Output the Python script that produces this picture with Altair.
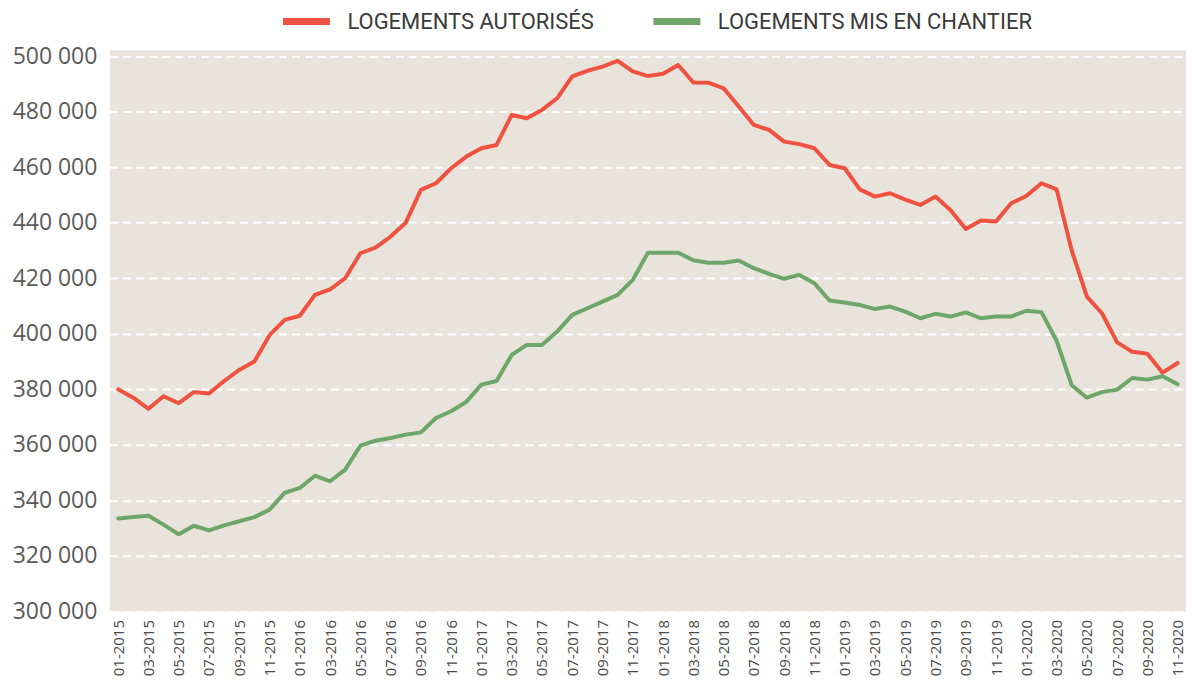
import altair as alt
import pandas as pd

# Monthly categories 01-2015 .. 11-2020
months = [f"{m:02d}-{y}" for y in range(2015, 2021) for m in range(1, 13)][:71]
tick_labels = months[::2]

series = ["LOGEMENTS AUTORISÉS", "LOGEMENTS MIS EN CHANTIER"]
colors = ["#ef5240", "#6ea669"]

# Values (logements, cumulative 12 months)
autorises = [
    380000, 377000, 373000, 377500, 375000, 379000, 378500, 383000, 387000, 390000, 399500, 405000,
    406500, 414000, 416000, 420000, 429000, 431000, 435000, 440000, 451800, 454200, 459600, 463800,
    466800, 468000, 478800, 477600, 480600, 484800, 492700, 494700, 496200, 498300, 494500, 492800,
    493600, 496800, 490500, 490400, 488400, 481800, 475200, 473400, 469200, 468300, 466800, 460800,
    459600, 452000, 449400, 450600, 448300, 446400, 449400, 444500, 437700, 440800, 440400, 447000,
    449600, 454200, 452000, 430000, 413400, 407400, 396900, 393500, 392800, 386000, 389500,
]
chantier = [
    333500, 334000, 334500, 331300, 327800, 330900, 329200, 331000, 332500, 334000, 336700, 342700,
    344500, 348900, 346900, 351100, 359700, 361500, 362500, 363700, 364500, 369700, 372100, 375500,
    381700, 383000, 392400, 396000, 396000, 400800, 406800, 409200, 411600, 414000, 419400, 429200,
    429200, 429200, 426500, 425600, 425600, 426400, 423600, 421600, 419800, 421200, 418200, 412000,
    411300, 410400, 408900, 409800, 408000, 405600, 407200, 406200, 407700, 405600, 406200, 406200,
    408300, 407800, 397500, 381500, 377000, 379000, 379900, 384100, 383500, 384700, 381800,
]

y_ticks = list(range(300000, 500001, 20000))

rows = []
for i, m in enumerate(months):
    rows.append({"mois": m, "idx": i, "serie": series[0], "valeur": autorises[i]})
    rows.append({"mois": m, "idx": i, "serie": series[1], "valeur": chantier[i]})
df = pd.DataFrame(rows)

chart = (
    alt.Chart(df)
    .mark_line(strokeWidth=4, strokeJoin="round", strokeCap="round")
    .encode(
        x=alt.X(
            "mois:N",
            sort=months,
            scale=alt.Scale(type="point", padding=0.55),
            axis=alt.Axis(
                values=tick_labels,
                labelAngle=-90,
                labelFont="Open Sans",
                labelFontSize=15,
                labelColor="#4a4a4a",
                labelPadding=8,
                ticks=False,
                domain=False,
                grid=False,
                title=None,
            ),
        ),
        y=alt.Y(
            "valeur:Q",
            scale=alt.Scale(domain=[300000, 502000], nice=False, zero=False),
            axis=alt.Axis(
                values=y_ticks,
                labelExpr="replace(format(datum.value, ','), ',', ' ')",
                labelFont="Open Sans",
                labelFontSize=23,
                labelColor="#5a5a5a",
                labelPadding=13,
                ticks=False,
                domain=False,
                grid=True,
                gridColor="#ffffff",
                gridWidth=2,
                gridDash=[8, 5],
                title=None,
            ),
        ),
        color=alt.Color(
            "serie:N",
            scale=alt.Scale(domain=series, range=colors),
            legend=alt.Legend(
                orient="none",
                legendX=170,
                legendY=-56,
                direction="horizontal",
                columns=2,
                title=None,
                symbolType="stroke",
                symbolSize=2209,
                symbolStrokeWidth=7,
                labelFont="Roboto",
                labelFontSize=22,
                labelColor="#3a3a3a",
                labelOffset=14,
                labelLimit=500,
                columnPadding=45,
                padding=0,
            ),
        ),
        order=alt.Order("idx:Q"),
    )
    .properties(
        width=1078,
        height=562,
        autosize=alt.AutoSizeParams(type="none"),
        padding={"left": 102, "top": 42, "right": 0, "bottom": 64},
    )
    .configure_view(fill="#e8e4dc", strokeWidth=0)
)

chart.save("out.html", embed_options={"renderer": "svg", "actions": False})
